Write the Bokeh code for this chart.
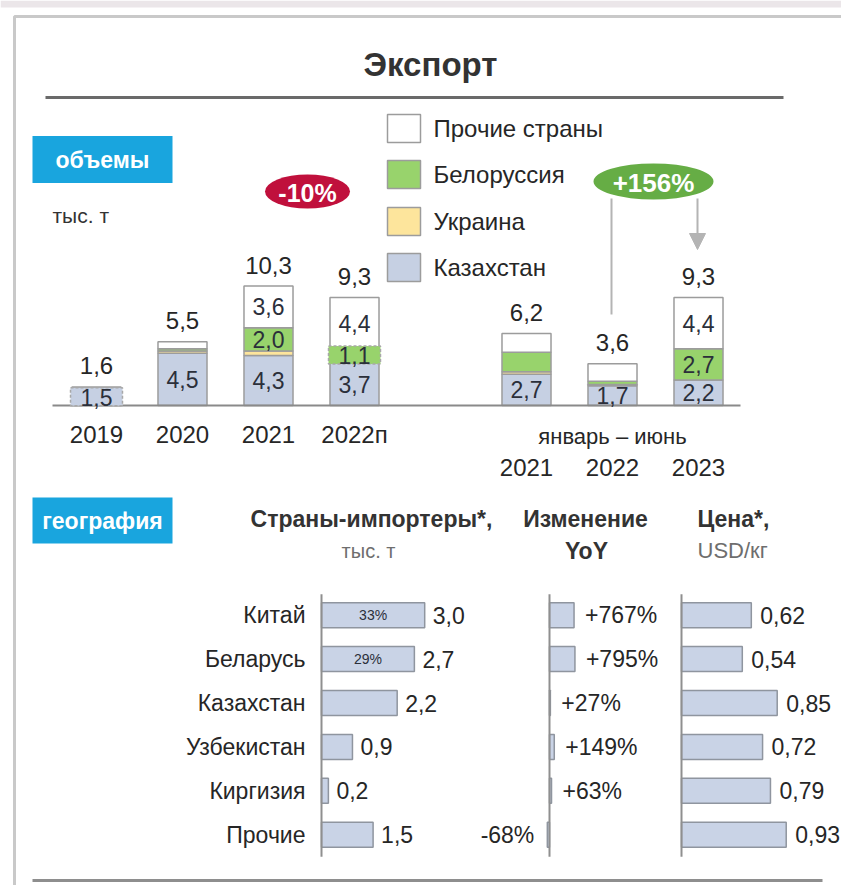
import numpy as np
from bokeh.plotting import figure
from bokeh.models import Range1d, Arrow, NormalHead
from bokeh.core.properties import value
from bokeh.embed import file_html
from bokeh.resources import INLINE

# ---------------- data ----------------
period_labels = ["2019", "2020", "2021", "2022п"]
h1_labels = ["2021", "2022", "2023"]
slots = [0, 1, 2, 3, 5, 6, 7]
kaz = [1.5, 4.5, 4.3, 3.7, 2.7, 1.7, 2.2]
ukr = [0.0, 0.2, 0.4, 0.1, 0.2, 0.1, 0.0]
bel = [0.0, 0.2, 2.0, 1.1, 1.7, 0.3, 2.7]
oth = [0.1, 0.6, 3.6, 4.4, 1.6, 1.5, 4.4]
totals = [1.6, 5.5, 10.3, 9.3, 6.2, 3.6, 9.3]
kaz_lbl = [True, True, True, True, True, True, True]
bel_lbl = [False, False, True, True, False, False, True]
oth_lbl = [False, False, True, True, False, False, True]
legend_labels = ["Прочие страны", "Белоруссия", "Украина", "Казахстан"]
badge_annual = "-10%"
badge_h1 = "+156%"

countries = ["Китай", "Беларусь", "Казахстан", "Узбекистан", "Киргизия", "Прочие"]
imp_vol = [3.0, 2.7, 2.2, 0.9, 0.2, 1.5]
imp_share = ["33%", "29%", "", "", "", ""]
yoy = [767, 795, 27, 149, 63, -68]
price = [0.62, 0.54, 0.85, 0.72, 0.79, 0.93]

# ---------------- style ----------------
FONT = "Liberation Sans"
DARK = "#262626"
GREY_TXT = "#6e6e6e"
C_KAZ = "#c6d0e3"
C_UKR = "#fde59c"
C_BEL = "#98d36c"
C_OTH = "#ffffff"
EDGE = "#9c9c9c"
BLUE_TAG = "#19a5de"
BAR_H = "#c9d3e6"
BAR_H_EDGE = "#8f959f"

W, H = 841, 885
X0, Y0 = 0, 0

p = figure(width=W, height=H, x_range=Range1d(X0, X0 + W), y_range=Range1d(Y0 + H, Y0),
           output_backend="svg", toolbar_location=None, min_border=0,
           x_axis_location=None, y_axis_location=None)
p.grid.visible = False
p.outline_line_color = None
p.background_fill_color = "white"
p.border_fill_color = "white"


def lin(anchor, ppu, px_start, px_end):
    return Range1d(start=(px_start - anchor) / ppu, end=(px_end - anchor) / ppu)


p.extra_x_ranges = {
    "slot": lin(96, 86, X0, X0 + W),
    "imp": lin(321, 34.4, X0, X0 + W),
    "yoy": lin(549, 0.032, X0, X0 + W),
    "price": lin(681, 112.6, X0, X0 + W),
}
p.extra_y_ranges = {
    "vol": lin(405, -11.6, Y0 + H, Y0),
    "row": lin(614.7, 43.9, Y0 + H, Y0),
}


def txt(x, y, s, size=22, color=DARK, align="center", baseline="middle", bold=False, **kw):
    p.text(x=[x], y=[y], text=[s], text_font=value(FONT), text_font_size=f"{size}px",
           text_color=color, text_align=align, text_baseline=baseline,
           text_font_style="bold" if bold else "normal", **kw)


def fmt(v):
    return f"{v:.1f}".replace(".", ",")


# ---------------- frame ----------------
p.quad(left=[0], right=[W], top=[0], bottom=[7], fill_color="#ebe6e9", line_color=None)
p.line(x=[14, 14, W + 5], y=[H + 5, 16, 16], line_color="#c9c9c9", line_width=3)
p.line(x=[32, 822], y=[880, 880], line_color="#8e8e8e", line_width=3)

# title
txt(430, 64, "Экспорт", size=33, color="#333333", bold=True)
p.line(x=[45, 783], y=[97, 97], line_color="#6a6a6a", line_width=3)

# tags
p.rect(x=[102], y=[159], width=140, height=47, fill_color=BLUE_TAG, line_color=None)
txt(102, 159, "объемы", size=23, color="white", bold=True)
txt(52, 215, "тыс. т", size=21, align="left", color="#333333")
p.rect(x=[102], y=[520], width=140, height=46, fill_color=BLUE_TAG, line_color=None)
txt(102, 520, "география", size=23, color="white", bold=True)

# ---------------- stacked volume bars ----------------
kaz_a, ukr_a, bel_a, oth_a = map(np.array, (kaz, ukr, bel, oth))
b0 = np.zeros_like(kaz_a)
b1 = b0 + kaz_a
b2 = b1 + ukr_a
b3 = b2 + bel_a
b4 = b3 + oth_a
sl = np.array(slots, dtype=float)
for bot, top, col in [(b0, b1, C_KAZ), (b1, b2, C_UKR), (b2, b3, C_BEL), (b3, b4, C_OTH)]:
    m = (top - bot) > 0
    p.vbar(x=sl[m], bottom=bot[m], top=top[m], width=0.57, fill_color=col,
           line_color=EDGE, line_width=1.5, x_range_name="slot", y_range_name="vol")

# baseline
p.line(x=[52, 740], y=[405, 405], line_color="#8a8a8a", line_width=2)

# totals
p.text(x=sl, y=np.array(totals), text=[fmt(v) for v in totals], x_range_name="slot",
       y_range_name="vol", text_font=value(FONT), text_font_size="24px", text_color=DARK,
       text_align="center", text_baseline="middle", y_offset=-21)

# segment labels
def seg_labels(bot, top, flags, boxed=None, box_color=None):
    for i, f in enumerate(flags):
        if not f:
            continue
        v = top[i] - bot[i]
        kw = {}
        if boxed is not None and boxed[i]:
            kw = dict(background_fill_color=box_color, border_line_color="#a8a8a8",
                      border_line_dash="3 2", border_line_width=1.5,
                      padding={"left": 10, "right": 10, "top": 1, "bottom": 0})
        p.text(x=[sl[i]], y=[(bot[i] + top[i]) / 2], text=[fmt(v)], x_range_name="slot",
               y_range_name="vol", text_font=value(FONT), text_font_size="23px",
               text_color="#2b2f3a", text_align="center", text_baseline="middle", **kw)


seg_labels(b0, b1, kaz_lbl, boxed=[True] + [False] * 6, box_color=C_KAZ)
seg_labels(b2, b3, bel_lbl, boxed=[False, False, False, True, False, False, False], box_color=C_BEL)
seg_labels(b3, b4, oth_lbl)

# x labels
p.text(x=sl[:4], y=[434] * 4, text=period_labels, x_range_name="slot", text_font=value(FONT),
       text_font_size="24px", text_color=DARK, text_align="center", text_baseline="middle")
p.text(x=[sl[5]], y=[436], text=["январь – июнь"], x_range_name="slot", text_font=value(FONT),
       text_font_size="22px", text_color=DARK, text_align="center", text_baseline="middle")
p.text(x=sl[4:], y=[467] * 3, text=h1_labels, x_range_name="slot", text_font=value(FONT),
       text_font_size="24px", text_color=DARK, text_align="center", text_baseline="middle")

# legend
leg_cols = [C_OTH, C_BEL, C_UKR, C_KAZ]
leg_y = [128, 174, 221, 267]
p.rect(x=[403.5] * 4, y=leg_y, width=33, height=28, fill_color=leg_cols, line_color=EDGE,
       line_width=1.5)
p.text(x=[433] * 4, y=leg_y, text=legend_labels, text_font=value(FONT), text_font_size="24px",
       text_color=DARK, text_align="left", text_baseline="middle")

# badges
p.ellipse(x=[307], y=[191], width=85, height=34, fill_color="#c0103c", line_color=None)
txt(307, 192, badge_annual, size=25, color="white", bold=True)
p.ellipse(x=[653], y=[181], width=120, height=36, fill_color="#66ad45", line_color=None)
txt(653, 182, badge_h1, size=26, color="white", bold=True)
p.line(x=[611, 611], y=[198, 314], line_color="#b4b4b4", line_width=2)
p.add_layout(Arrow(end=NormalHead(size=16, fill_color="#b4b4b4", line_color="#b4b4b4"),
                   x_start=697, y_start=198, x_end=697, y_end=249,
                   line_color="#b4b4b4", line_width=2))

# ---------------- geography headers ----------------
txt(371, 518, "Страны-импортеры*,", size=23, color="#333333", bold=True)
txt(368, 550, "тыс. т", size=20, color=GREY_TXT)
txt(585, 518, "Изменение", size=23, color="#333333", bold=True)
txt(586, 550, "YoY", size=23, color="#333333", bold=True)
txt(697, 518, "Цена*,", size=23, color="#333333", bold=True, align="left")
txt(697, 550, "USD/кг", size=22, color=GREY_TXT, align="left")

rows = np.arange(len(countries), dtype=float)
BH = 25 / 43.9

# importers
p.hbar(y=rows, left=0, right=imp_vol, height=BH, fill_color=BAR_H, line_color=BAR_H_EDGE,
       line_width=1.5, x_range_name="imp", y_range_name="row")
p.text(x=imp_vol, y=rows, text=[fmt(v) for v in imp_vol], x_range_name="imp", y_range_name="row",
       text_font=value(FONT), text_font_size="23px", text_color=DARK, text_align="left",
       text_baseline="middle", x_offset=8)
p.text(x=[v / 2 for v in imp_vol], y=rows, text=imp_share, x_range_name="imp", y_range_name="row",
       text_font=value(FONT), text_font_size="14px", text_color="#2b2f3a", text_align="center",
       text_baseline="middle")
p.text(x=[0] * len(countries), y=rows, text=countries, x_range_name="imp", y_range_name="row",
       text_font=value(FONT), text_font_size="23px", text_color=DARK, text_align="right",
       text_baseline="middle", x_offset=-16)

# yoy
yoy_a = np.array(yoy, dtype=float)
p.hbar(y=rows, left=0, right=yoy_a, height=BH, fill_color=BAR_H, line_color=BAR_H_EDGE,
       line_width=1.5, x_range_name="yoy", y_range_name="row")
pos = yoy_a >= 0
yoy_txt = [("+" if v > 0 else "") + f"{int(v)}%" for v in yoy]
p.text(x=yoy_a[pos], y=rows[pos], text=[t for t, m in zip(yoy_txt, pos) if m], x_range_name="yoy",
       y_range_name="row", text_font=value(FONT), text_font_size="23px", text_color=DARK,
       text_align="left", text_baseline="middle", x_offset=11)
p.text(x=yoy_a[~pos], y=rows[~pos], text=[t for t, m in zip(yoy_txt, pos) if not m],
       x_range_name="yoy", y_range_name="row", text_font=value(FONT), text_font_size="23px",
       text_color=DARK, text_align="right", text_baseline="middle", x_offset=-13)

# price
p.hbar(y=rows, left=0, right=price, height=BH, fill_color=BAR_H, line_color=BAR_H_EDGE,
       line_width=1.5, x_range_name="price", y_range_name="row")
p.text(x=price, y=rows, text=[f"{v:.2f}".replace(".", ",") for v in price], x_range_name="price",
       y_range_name="row", text_font=value(FONT), text_font_size="23px", text_color=DARK,
       text_align="left", text_baseline="middle", x_offset=9)

# axis lines for the three panels
for rn in ["imp", "yoy", "price"]:
    p.segment(x0=[0], x1=[0], y0=[-0.48], y1=[5.5], line_color="#8f8f8f", line_width=2,
              x_range_name=rn, y_range_name="row")

open("out.html", "w").write(file_html(p, INLINE))
